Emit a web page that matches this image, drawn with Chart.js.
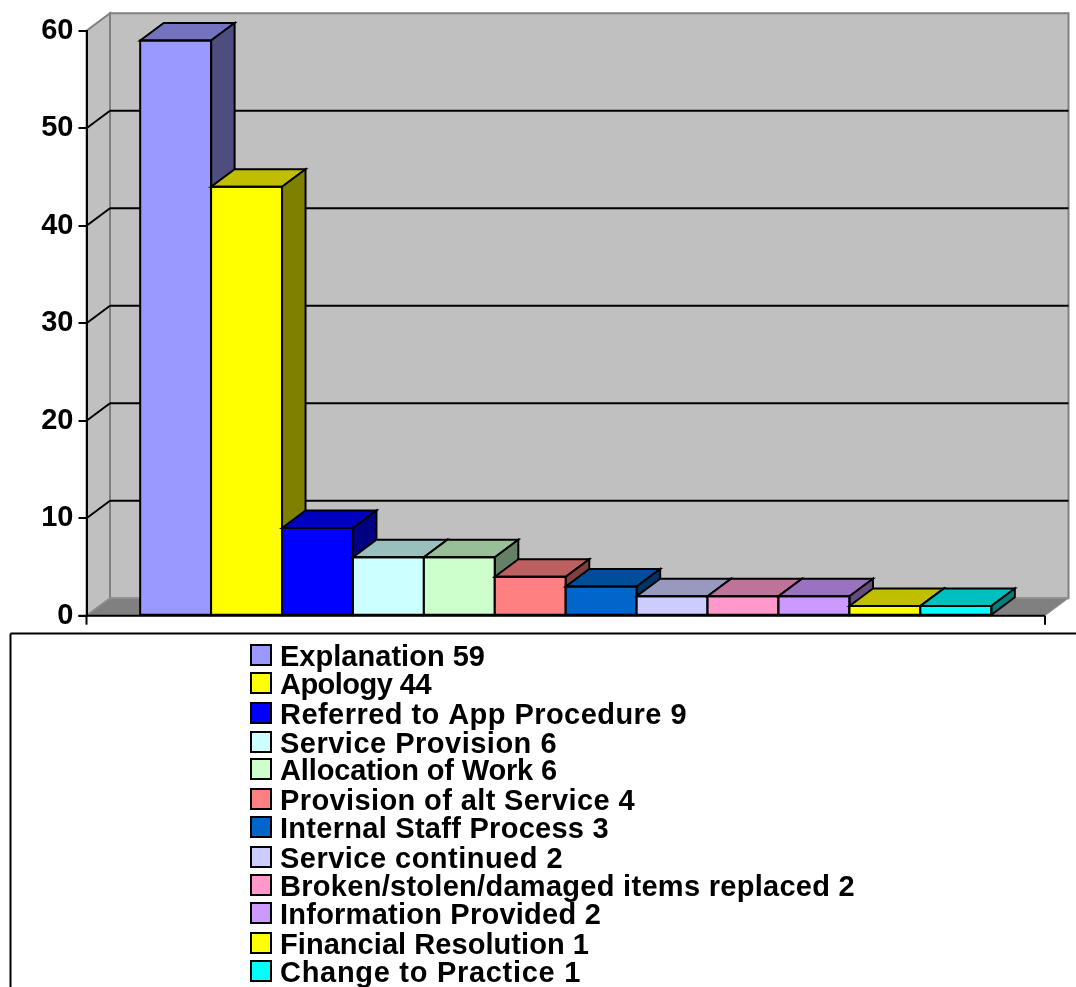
<!DOCTYPE html>
<html>
<head>
<meta charset="utf-8">
<style>
  html, body { margin: 0; padding: 0; background: #fff; overflow: hidden; }
  canvas { display: block; }
</style>
<script src="https://cdn.jsdelivr.net/npm/chart.js@4/dist/chart.umd.min.js"></script>
</head>
<body>
<canvas id="chart" width="1076" height="987"></canvas>
<script>
const categories = ['Responses'];
const seriesNames = ['Explanation', 'Apology', 'Referred to App Procedure', 'Service Provision',
  'Allocation of Work', 'Provision of alt Service', 'Internal Staff Process', 'Service continued',
  'Broken/stolen/damaged items replaced', 'Information Provided', 'Financial Resolution', 'Change to Practice'];
const seriesValues = [59, 44, 9, 6, 6, 4, 3, 2, 2, 2, 1, 1];
const frontColors = ['#9999FF', '#FFFF00', '#0000FF', '#CCFFFF', '#CCFFCC', '#FF8080',
  '#0066CC', '#CCCCFF', '#FF99CC', '#CC99FF', '#FFFF00', '#00FFFF'];
const yTicks = [0, 10, 20, 30, 40, 50, 60];

// Layout of the pseudo-3D box and the key below the plot
const DEPTH_X = 23.5, DEPTH_Y = 17.5;
const FONT = 'bold 29px "Liberation Sans", Arial, sans-serif';
const KEY_ROW_TOPS = [645, 673, 703, 732, 759, 789, 817, 847, 875, 903, 933, 961];
const KEY_ROW_ENDS = [485, 431, 687, 557, 557, 635, 609, 563, 855, 601, 589, 581];
const KEY_X = 251, KEY_BOX = 20, KEY_TEXT_X = 280;
const FRAME_X = 10.5, FRAME_Y = 633.5;

function shade(hex, f) {
  const n = parseInt(hex.slice(1), 16);
  const c = [n >> 16, (n >> 8) & 255, n & 255].map(v => Math.round(v * f));
  return `rgb(${c[0]},${c[1]},${c[2]})`;
}

function poly(ctx, pts, fill, stroke, lw) {
  ctx.beginPath();
  pts.forEach((p, i) => i ? ctx.lineTo(p[0], p[1]) : ctx.moveTo(p[0], p[1]));
  ctx.closePath();
  if (fill) { ctx.fillStyle = fill; ctx.fill(); }
  if (stroke) { ctx.strokeStyle = stroke; ctx.lineWidth = lw; ctx.lineJoin = 'miter'; ctx.stroke(); }
}

function line(ctx, x1, y1, x2, y2, color, lw) {
  ctx.beginPath();
  ctx.moveTo(x1, y1);
  ctx.lineTo(x2, y2);
  ctx.strokeStyle = color;
  ctx.lineWidth = lw;
  ctx.stroke();
}

// Side wall, back wall, floor and their grid lines
const boxWalls = {
  id: 'boxWalls',
  beforeDraw(chart) {
    const { ctx, scales: { x, y } } = chart;
    const l = x.left, r = x.right, t = y.getPixelForValue(60), b = y.getPixelForValue(0);
    ctx.save();
    poly(ctx, [[l + DEPTH_X, t - DEPTH_Y], [r + DEPTH_X, t - DEPTH_Y], [r + DEPTH_X, b - DEPTH_Y], [l + DEPTH_X, b - DEPTH_Y]], '#C0C0C0', '#808080', 2);
    poly(ctx, [[l, t], [l + DEPTH_X, t - DEPTH_Y], [l + DEPTH_X, b - DEPTH_Y], [l, b]], '#C0C0C0', '#808080', 2);
    poly(ctx, [[l, b], [l + DEPTH_X, b - DEPTH_Y], [r + DEPTH_X, b - DEPTH_Y], [r, b]], '#808080', '#999999', 1);
    yTicks.forEach(v => {
      if (v === 0 || v === 60) return;
      const py = y.getPixelForValue(v);
      line(ctx, l, py, l + DEPTH_X, py - DEPTH_Y, '#000', 2);
      line(ctx, l + DEPTH_X, py - DEPTH_Y, r + DEPTH_X, py - DEPTH_Y, '#000', 2);
    });
    ctx.restore();
  }
};

// Paints the bars left to right so each front covers the side face of its left neighbour
const barFaces = {
  id: 'barFaces',
  afterDatasetsDraw(chart) {
    const { ctx } = chart;
    ctx.save();
    seriesNames.forEach((name, i) => {
      const bar = chart.getDatasetMeta(i).data[0];
      const color = frontColors[i];
      const half = bar.width / 2, l = bar.x - half, r = bar.x + half, t = bar.y, b = bar.base;
      bar.draw(ctx);
      poly(ctx, [[l, t], [l + DEPTH_X, t - DEPTH_Y], [r + DEPTH_X, t - DEPTH_Y], [r, t]], shade(color, 0.75), '#000', 2);
      poly(ctx, [[r, t], [r + DEPTH_X, t - DEPTH_Y], [r + DEPTH_X, b - DEPTH_Y], [r, b]], shade(color, 0.5), '#000', 2);
      poly(ctx, [[l, t], [r, t], [r, b], [l, b]], null, '#000', 2);
    });
    ctx.restore();
  }
};

// Baseline with its end ticks, then the framed key listing each series and value
const axisAndKey = {
  id: 'axisAndKey',
  afterDraw(chart) {
    const { ctx, scales: { x, y } } = chart;
    const b = y.getPixelForValue(0);
    ctx.save();
    line(ctx, x.left - 8, b, x.right, b, '#000', 2);
    line(ctx, x.left, b, x.left, b + 9, '#000', 2);
    line(ctx, x.right, b, x.right, b + 9, '#000', 2);

    line(ctx, FRAME_X, FRAME_Y, chart.width, FRAME_Y, '#000', 2);
    line(ctx, FRAME_X, FRAME_Y, FRAME_X, chart.height, '#000', 2);

    ctx.font = FONT;
    ctx.textAlign = 'left';
    ctx.textBaseline = 'alphabetic';
    seriesNames.forEach((name, i) => {
      const top = KEY_ROW_TOPS[i];
      const label = `${name} ${seriesValues[i]}`;
      ctx.fillStyle = frontColors[i];
      ctx.fillRect(KEY_X, top, KEY_BOX, KEY_BOX);
      ctx.strokeStyle = '#000';
      ctx.lineWidth = 2;
      ctx.strokeRect(KEY_X, top, KEY_BOX, KEY_BOX);
      ctx.fillStyle = '#000';
      // Each row is tracked so that it ends at its set right edge
      ctx.letterSpacing = '0px';
      const natural = ctx.measureText(label).width;
      ctx.letterSpacing = `${(KEY_ROW_ENDS[i] - KEY_TEXT_X - natural) / label.length}px`;
      ctx.fillText(label, KEY_TEXT_X, top + 21);
    });
    ctx.restore();
  }
};

new Chart(document.getElementById('chart'), {
  type: 'bar',
  data: {
    labels: categories,
    datasets: seriesNames.map((name, i) => ({
      label: name,
      data: [seriesValues[i]],
      backgroundColor: frontColors[i],
      borderWidth: 0,
      barPercentage: 1,
      categoryPercentage: 0.888
    }))
  },
  options: {
    responsive: false,
    animation: false,
    layout: { padding: { top: 30.7, right: 31, left: 0, bottom: 0 } },
    plugins: { legend: { display: false }, tooltip: { enabled: false } },
    scales: {
      x: {
        grid: { display: false },
        border: { display: false },
        ticks: { display: false },
        afterFit(scale) { scale.height = 371.3; }
      },
      y: {
        min: 0,
        max: 60,
        afterFit(scale) { scale.width = 86.5; },
        afterBuildTicks(scale) { scale.ticks = yTicks.map(value => ({ value })); },
        border: { display: true, color: '#000', width: 2 },
        grid: { drawOnChartArea: false, drawTicks: true, tickLength: 8, color: '#000', lineWidth: 2 },
        ticks: {
          color: '#000',
          padding: 5,
          font: { family: '"Liberation Sans", Arial, sans-serif', size: 29, weight: 'bold' }
        }
      }
    }
  },
  plugins: [boxWalls, barFaces, axisAndKey]
});
</script>
</body>
</html>
